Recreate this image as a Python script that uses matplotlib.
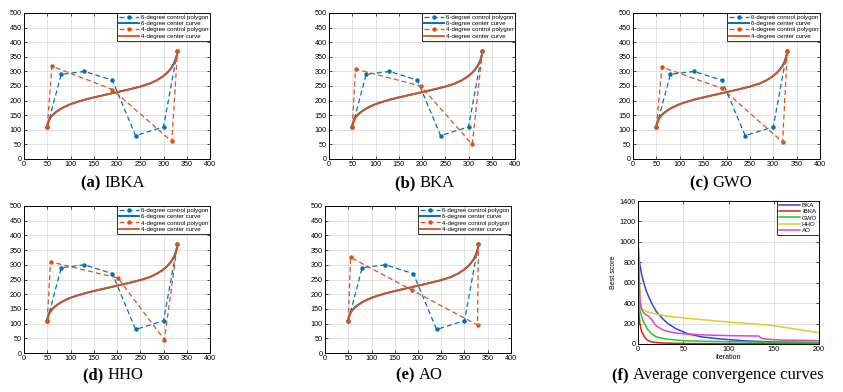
import matplotlib
matplotlib.use("Agg")
import matplotlib.pyplot as plt

plt.rcParams['font.family'] = ['Liberation Sans', 'DejaVu Sans']

# 6-degree control polygon (same in every panel)
poly6_x = [50, 80, 130, 190, 240, 300, 330]
poly6_y = [110, 290, 300, 270, 80, 110, 370]

# 4-degree control polygons, one per algorithm
algos = ['IBKA', 'BKA', 'GWO', 'HHO', 'AO']
poly4_x = {
    'IBKA': [50, 60, 190, 318, 330],
    'BKA': [50, 57, 197, 308, 330],
    'GWO': [50, 62, 190, 320, 330],
    'HHO': [50, 57, 202, 302, 330],
    'AO': [50, 55, 188, 328, 330],
}
poly4_y = {
    'IBKA': [110, 318, 238, 60, 370],
    'BKA': [110, 308, 250, 50, 370],
    'GWO': [110, 315, 242, 58, 370],
    'HHO': [110, 310, 255, 45, 370],
    'AO': [110, 325, 213, 95, 370],
}

# center curves
curve6_x = [50, 50.5, 51.5, 53, 55, 58, 62, 67, 73, 80, 90, 100, 115, 130, 150, 175, 200,
            225, 250, 270, 285, 297, 307, 314, 319, 323, 326, 328.5, 330]
curve6_y = [110, 117, 124, 131, 138, 145, 152, 159, 166, 173, 181, 188, 196, 203, 211, 220, 229,
            238, 248, 258, 269, 281, 294, 306, 318, 330, 342, 356, 370]
curve4_x = [50, 51, 52.5, 54, 56, 59, 63, 68, 74, 81, 91, 101, 116, 131, 151, 176, 200,
            225, 250, 270, 285, 297, 307, 314, 320, 324, 327, 329, 330]
curve4_y = [110, 117, 124, 131, 138, 145, 152, 159, 166, 173, 181, 188, 196, 203, 211, 220, 229,
            238, 248, 258, 269, 281, 294, 306, 318, 330, 342, 356, 370]

# average convergence curves (iteration, best score)
conv_names = ['BKA', 'IBKA', 'GWO', 'HHO', 'AO']
conv_iter = {
    'BKA': [0, 1, 2, 4, 7, 10, 15, 20, 27, 33, 42, 55, 70, 90, 120, 150, 200],
    'IBKA': [0, 1, 2, 4, 7, 10, 15, 25, 50, 100, 200],
    'GWO': [0, 1, 2, 5, 10, 15, 20, 30, 50, 100, 150, 200],
    'HHO': [0, 1, 2, 3, 5, 10, 20, 30, 50, 75, 100, 130, 145, 160, 175, 200],
    'AO': [0, 1, 2, 3, 5, 8, 12, 15, 18, 20, 25, 30, 40, 50, 75, 100, 133, 137, 145, 160, 200],
}
conv_val = {
    'BKA': [1000, 850, 780, 680, 580, 500, 400, 320, 250, 200, 150, 100, 70, 50, 30, 20, 15],
    'IBKA': [470, 300, 200, 120, 70, 40, 20, 10, 5, 3, 2],
    'GWO': [670, 420, 330, 240, 150, 100, 70, 50, 32, 22, 16, 12],
    'HHO': [1230, 800, 550, 400, 340, 315, 295, 275, 255, 235, 215, 195, 185, 165, 145, 110],
    'AO': [1050, 700, 450, 360, 320, 290, 270, 240, 200, 180, 150, 130, 110, 100, 88, 82, 78, 55, 45, 38, 33],
}
conv_colors = {
    'BKA': '#3344dd',
    'IBKA': '#dd2211',
    'GWO': '#22cc22',
    'HHO': '#d2d22a',
    'AO': '#dd44cc',
}

blue = '#0072bd'
orange = '#d95319'

fig = plt.figure(figsize=(8.43, 3.92), dpi=100)
W, H = 843.0, 392.0


def box(left, right, top, bottom):
    return [left / W, 1 - bottom / H, (right - left) / W, (bottom - top) / H]


def style_axes(ax):
    ax.grid(True, color='#dddddd', linewidth=0.6)
    ax.set_axisbelow(True)
    ax.tick_params(direction='in', length=2, width=0.5, labelsize=5.2, pad=1.5,
                   top=True, right=True)
    for s in ax.spines.values():
        s.set_linewidth(0.7)


def small_legend(ax, hl):
    leg = ax.legend(loc='upper right', fontsize=4.4, frameon=True, fancybox=False,
                    borderpad=0.3, labelspacing=0.15, handlelength=hl, handletextpad=0.3,
                    borderaxespad=0)
    leg.get_frame().set_edgecolor('black')
    leg.get_frame().set_linewidth(0.7)


renderer = fig.canvas.get_renderer()


def caption(cx, cy, tag, rest):
    # bold tag + plain text, centred on cx (pixels)
    t1 = fig.text(0, 1 - cy / H, tag + ' ', ha='left', va='center', fontsize=12,
                  fontweight='bold', family='Liberation Serif')
    t2 = fig.text(0, 1 - cy / H, rest, ha='left', va='center', fontsize=12,
                  family='Liberation Serif')
    w1 = t1.get_window_extent(renderer).width
    w2 = t2.get_window_extent(renderer).width
    x0 = cx - (w1 + w2) / 2
    t1.set_x(x0 / W)
    t2.set_x((x0 + w1) / W)


panel_boxes = {
    'IBKA': (24, 210, 13, 159),
    'BKA': (329, 515, 13, 159),
    'GWO': (633, 820, 13, 159),
    'HHO': (24, 210, 206, 353),
    'AO': (325, 511, 206, 353),
}
cap_pos = {'IBKA': (113, 183), 'BKA': (425, 183), 'GWO': (721, 183),
           'HHO': (113, 375), 'AO': (419, 375)}
cap_tag = {'IBKA': '(a)', 'BKA': '(b)', 'GWO': '(c)', 'HHO': '(d)', 'AO': '(e)'}

for name in algos:
    l, r, t, b = panel_boxes[name]
    ax = fig.add_axes(box(l, r, t, b))
    ax.plot(poly6_x, poly6_y, '--o', color=blue, lw=0.9, ms=2.2, dashes=(4, 2.5),
            label='6-degree control polygon')
    ax.plot(curve6_x, curve6_y, '-', color=blue, lw=1.4, label='6-degree center curve')
    ax.plot(poly4_x[name], poly4_y[name], '--o', color=orange, lw=0.9, ms=2.2, dashes=(4, 2.5),
            label='4-degree control polygon')
    ax.plot(curve4_x, curve4_y, '-', color=orange, lw=1.3, label='4-degree center curve')
    ax.set_xlim(0, 400)
    ax.set_ylim(0, 500)
    ax.set_xticks(range(0, 401, 50))
    ax.set_yticks(range(0, 501, 50))
    style_axes(ax)
    small_legend(ax, 3.2)
    caption(cap_pos[name][0], cap_pos[name][1], cap_tag[name], name)

# convergence panel
axf = fig.add_axes(box(638, 819, 201, 344))
for name in conv_names:
    axf.plot(conv_iter[name], conv_val[name], color=conv_colors[name], lw=1.1, label=name)
axf.set_xlim(0, 200)
axf.set_ylim(0, 1400)
axf.set_xticks(range(0, 201, 50))
axf.set_yticks(range(0, 1401, 200))
style_axes(axf)
axf.set_xlabel('Iteration', fontsize=5, labelpad=1)
axf.set_ylabel('Best score', fontsize=5, labelpad=2)
small_legend(axf, 3.5)
caption(718, 375, '(f)', 'Average convergence curves')

fig.savefig('out.png', dpi=100)
